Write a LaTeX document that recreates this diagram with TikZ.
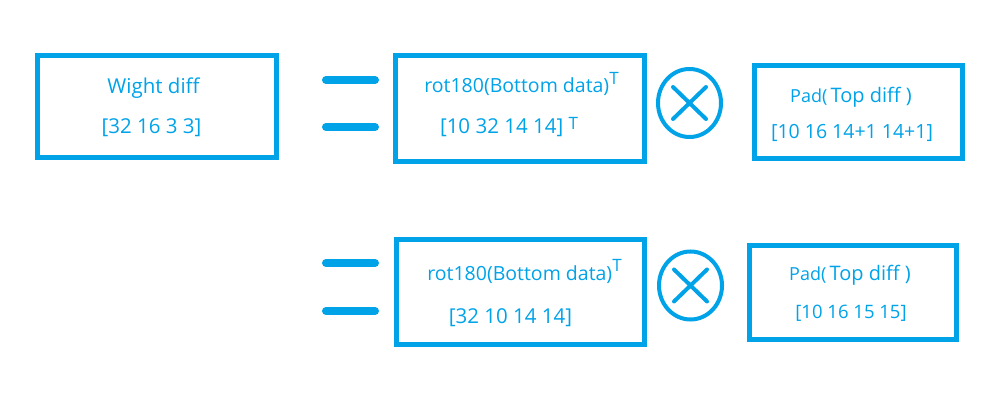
\documentclass[tikz,border=0pt]{standalone}
\usepackage{fontspec}
\setmainfont{Open Sans}
\usepackage{xcolor}
\usepackage{tikz}
\definecolor{paintblue}{RGB}{0,162,232}
\newcommand{\supT}[1]{\raisebox{#1pt}{\fontsize{17}{17}\selectfont T}}
\newcommand{\padword}{{\fontsize{18}{20}\selectfont Pad(}\,{\fontsize{20}{22}\selectfont Top diff )}}

\begin{document}
\begin{tikzpicture}[x=1pt,y=-1pt,
	box/.style={draw=paintblue,line width=5pt,inner sep=0pt},
	bar/.style={draw=paintblue,line width=8pt,line cap=round},
	ring/.style={draw=paintblue,line width=4pt},
	crossline/.style={draw=paintblue,line width=4pt,line cap=round},
	txt/.style={text=paintblue,inner sep=0pt,anchor=base,font=\fontsize{19.5}{22}\selectfont},
	dims/.style={txt,font=\fontsize{20.5}{22}\selectfont}]
	\useasboundingbox (0,0) rectangle (1006,419);

	\node[box,minimum width=239pt,minimum height=102pt] (wd) at (157,106.5) {};
	\node[box,minimum width=249pt,minimum height=106pt] (bdtop) at (520,108.5) {};
	\node[box,minimum width=208pt,minimum height=93pt] (tdtop) at (858.5,112) {};
	\node[box,minimum width=248pt,minimum height=105pt] (bdbot) at (520.5,292) {};
	\node[box,minimum width=207pt,minimum height=94pt] (tdbot) at (853,292.5) {};

	\foreach \y in {80,127,263,311}
		\draw[bar] (326,\y) -- (375,\y);

	\foreach \cx/\cy in {689.5/103,690.5/285.5} {
		\draw[ring] (\cx,\cy) ellipse [x radius=31.5pt,y radius=34pt];
		\draw[crossline] (\cx-16.5,\cy-16) -- (\cx+16.5,\cy+16);
		\draw[crossline] (\cx+16.5,\cy-16) -- (\cx-16.5,\cy+16);
	}

	\node[txt,font=\fontsize{20.5}{22}\selectfont] (wdname) at (153.5,94) {Wight diff};
	\node[dims] (wdsize) at (151.5,134) {[32 16 3 3]};

	\node[txt] (bdtopname) at (521.5,93) {rot180(Bottom data)\supT{8}};
	\node[dims] (bdtopsize) at (509,134) {[10 32 14 14] \supT{4}};
	\node[txt] (tdtopname) at (851,103) {\padword};
	\node[txt] (tdtopsize) at (852,139) {[10 16 14+1 14+1]};

	\node[txt] (bdbotname) at (524.5,281) {rot180(Bottom data)\supT{9}};
	\node[dims] (bdbotsize) at (510.5,324) {[32 10 14 14]};
	\node[txt] (tdbotname) at (850,281) {\padword};
	\node[txt,font=\fontsize{18.5}{22}\selectfont] (tdbotsize) at (851,319) {[10 16 15 15]};
\end{tikzpicture}
\end{document}
